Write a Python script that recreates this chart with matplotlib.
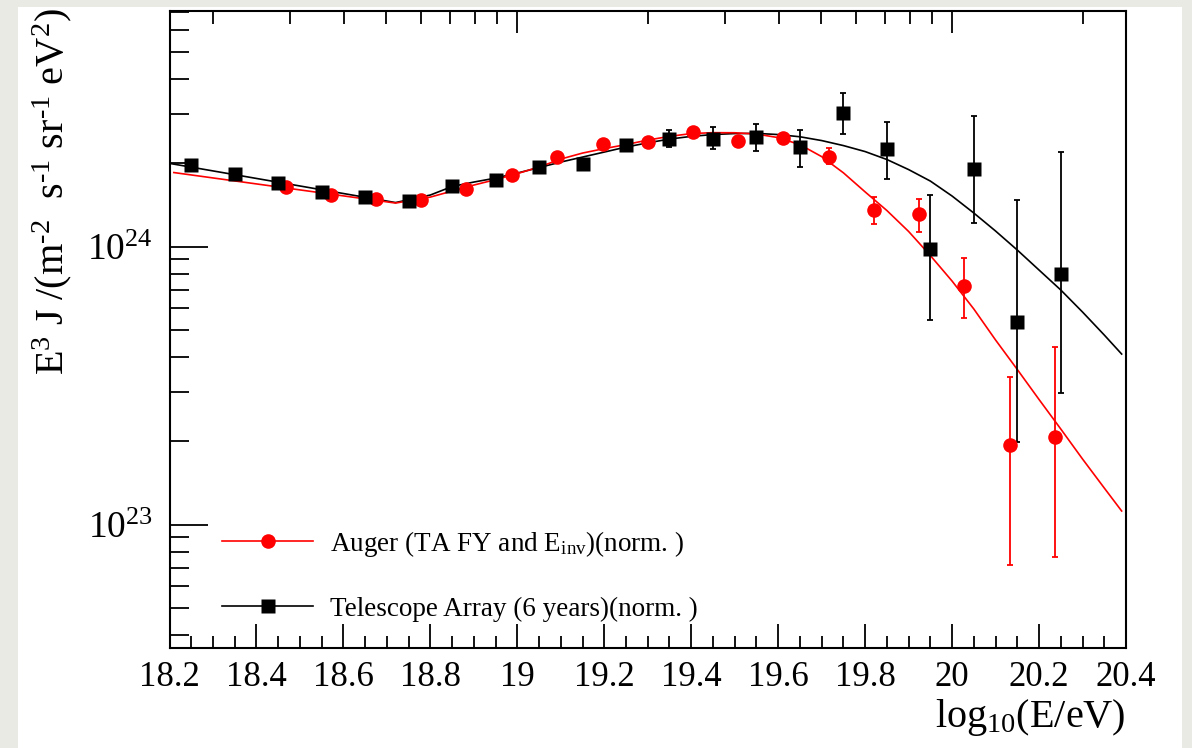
import numpy as np
import matplotlib
matplotlib.use('Agg')
import matplotlib.pyplot as plt
from matplotlib.lines import Line2D
from matplotlib.patches import Rectangle
from matplotlib.ticker import FixedLocator, FixedFormatter, NullFormatter

plt.rcParams['font.family'] = ['Liberation Serif', 'DejaVu Serif']
plt.rcParams['mathtext.fontset'] = 'custom'
plt.rcParams['mathtext.rm'] = 'Liberation Serif'
plt.rcParams['mathtext.it'] = 'Liberation Serif:italic'
plt.rcParams['mathtext.bf'] = 'Liberation Serif:bold'

# ---- Telescope Array (6 years), normalised ----
ta_x = [18.25, 18.35, 18.45, 18.55, 18.65, 18.75, 18.85, 18.95, 19.05, 19.15,
        19.25, 19.35, 19.45, 19.55, 19.65, 19.75, 19.85, 19.95, 20.05, 20.15, 20.25]
ta_y = [1.97e24, 1.83e24, 1.70e24, 1.58e24, 1.51e24, 1.46e24, 1.65e24, 1.74e24,
        1.94e24, 1.98e24, 2.32e24, 2.45e24, 2.45e24, 2.49e24, 2.29e24, 3.04e24,
        2.24e24, 0.98e24, 1.91e24, 5.36e23, 7.98e23]
ta_lo = [1.95e24, 1.81e24, 1.68e24, 1.56e24, 1.49e24, 1.44e24, 1.62e24, 1.71e24,
         1.90e24, 1.93e24, 2.24e24, 2.29e24, 2.24e24, 2.21e24, 1.94e24, 2.54e24,
         1.75e24, 5.45e23, 1.22e24, 1.99e23, 2.97e23]
ta_hi = [1.99e24, 1.85e24, 1.72e24, 1.60e24, 1.53e24, 1.48e24, 1.68e24, 1.77e24,
         1.98e24, 2.03e24, 2.40e24, 2.64e24, 2.69e24, 2.77e24, 2.64e24, 3.57e24,
         2.80e24, 1.53e24, 2.96e24, 1.47e24, 2.19e24]

# ---- Auger (TA FY and E_inv), normalised ----
au_x = [18.467, 18.571, 18.675, 18.779, 18.883, 18.988, 19.092, 19.196, 19.300,
        19.404, 19.508, 19.612, 19.716, 19.820, 19.924, 20.028, 20.133, 20.237]
au_y = [1.64e24, 1.53e24, 1.48e24, 1.47e24, 1.61e24, 1.81e24, 2.10e24, 2.34e24,
        2.39e24, 2.59e24, 2.41e24, 2.47e24, 2.11e24, 1.36e24, 1.31e24, 7.22e23,
        1.93e23, 2.06e23]
au_lo = [1.63e24, 1.52e24, 1.47e24, 1.46e24, 1.60e24, 1.80e24, 2.09e24, 2.32e24,
         2.37e24, 2.56e24, 2.38e24, 2.43e24, 1.98e24, 1.21e24, 1.13e24, 5.55e23,
         7.16e22, 7.67e22]
au_hi = [1.65e24, 1.54e24, 1.49e24, 1.48e24, 1.62e24, 1.82e24, 2.11e24, 2.36e24,
         2.41e24, 2.62e24, 2.44e24, 2.51e24, 2.27e24, 1.51e24, 1.49e24, 9.13e23,
         3.41e23, 4.35e23]

# ---- fitted curves ----
ta_fit_x = [18.20, 18.72, 18.80, 18.85, 18.90, 18.95, 19.00, 19.05, 19.10, 19.15,
            19.20, 19.25, 19.30, 19.35, 19.40, 19.45, 19.50, 19.55, 19.60, 19.65,
            19.70, 19.75, 19.80, 19.85, 19.90, 19.95, 20.00, 20.05, 20.10, 20.15,
            20.20, 20.25, 20.30, 20.35, 20.39]
ta_fit_y = [1.995e24, 1.442e24, 1.535e24, 1.647e24, 1.709e24, 1.766e24, 1.841e24,
            1.927e24, 2.017e24, 2.102e24, 2.191e24, 2.284e24, 2.365e24, 2.440e24,
            2.495e24, 2.533e24, 2.554e24, 2.558e24, 2.533e24, 2.487e24, 2.410e24,
            2.312e24, 2.200e24, 2.060e24, 1.895e24, 1.723e24, 1.522e24, 1.322e24,
            1.139e24, 9.73e23, 8.245e23, 6.988e23, 5.823e23, 4.813e23, 4.111e23]

au_fit_x = [18.21, 18.72, 18.80, 18.85, 18.90, 18.95, 19.00, 19.05, 19.10, 19.15,
            19.20, 19.25, 19.30, 19.35, 19.40, 19.45, 19.50, 19.55, 19.60, 19.65,
            19.70, 19.75, 19.80, 19.85, 19.90, 19.95, 20.00, 20.05, 20.10, 20.15,
            20.20, 20.25, 20.30, 20.35, 20.39]
au_fit_y = [1.849e24, 1.436e24, 1.509e24, 1.586e24, 1.667e24, 1.744e24, 1.833e24,
            1.935e24, 2.068e24, 2.173e24, 2.255e24, 2.331e24, 2.420e24, 2.495e24,
            2.554e24, 2.573e24, 2.571e24, 2.544e24, 2.470e24, 2.330e24, 2.110e24,
            1.845e24, 1.575e24, 1.350e24, 1.135e24, 9.296e23, 7.524e23, 5.970e23,
            4.618e23, 3.617e23, 2.821e23, 2.209e23, 1.723e23, 1.355e23, 1.120e23]

x_ticks = [18.2, 18.4, 18.6, 18.8, 19.0, 19.2, 19.4, 19.6, 19.8, 20.0, 20.2, 20.4]
x_tick_labels = ['18.2', '18.4', '18.6', '18.8', '19', '19.2', '19.4', '19.6',
                 '19.8', '20', '20.2', '20.4']

W, H = 1192, 748
fig = plt.figure(figsize=(W / 100, H / 100), dpi=100)
fig.patch.set_facecolor('#EAEAE5')
fig.patches.append(Rectangle((18 / W, 0), (1182 - 18) / W, (H - 7) / H,
                             transform=fig.transFigure, facecolor='white',
                             edgecolor='none', zorder=-10))

ax = fig.add_axes([169.5 / W, (H - 648) / H, (1126 - 169.5) / W, (648 - 11) / H])
ax.set_yscale('log')
ax.set_xlim(18.2, 20.4)
ax.set_ylim(3.6e22, 7.05e24)

ta_y = np.array(ta_y); au_y = np.array(au_y)
ax.plot(ta_fit_x, ta_fit_y, color='black', lw=1.2, zorder=2)
ax.plot(au_fit_x, au_fit_y, color='red', lw=1.2, zorder=2)

ax.errorbar(ta_x, ta_y, yerr=[ta_y - np.array(ta_lo), np.array(ta_hi) - ta_y],
            fmt='none', ecolor='black', elinewidth=1.3, capsize=2.5,
            capthick=1.3, zorder=3)
ax.errorbar(au_x, au_y, yerr=[au_y - np.array(au_lo), np.array(au_hi) - au_y],
            fmt='none', ecolor='red', elinewidth=1.3, capsize=2.5,
            capthick=1.3, zorder=3)
ax.plot(au_x, au_y, 'o', color='red', ms=10.5, mec='none', zorder=4)
ax.plot(ta_x, ta_y, 's', color='black', ms=10.3, mec='none', zorder=5)

# axes styling (ROOT-like)
for s in ax.spines.values():
    s.set_linewidth(1.5)
ax.xaxis.set_major_locator(FixedLocator(x_ticks))
ax.xaxis.set_major_formatter(FixedFormatter(x_tick_labels))
ax.xaxis.set_minor_locator(FixedLocator(np.arange(18.2, 20.401, 0.05)))
ax.yaxis.set_major_locator(FixedLocator([1e23, 1e24]))
ax.yaxis.set_major_formatter(FixedFormatter([r'$\mathregular{10^{23}}$',
                                             r'$\mathregular{10^{24}}$']))
ax.yaxis.set_minor_locator(FixedLocator([k * 10.0 ** n for n in (22, 23, 24)
                                         for k in range(2, 10)]))
ax.yaxis.set_minor_formatter(NullFormatter())
ax.tick_params(axis='x', which='major', direction='in', length=17, width=1.3,
               labelsize=25, pad=9, top=False)
ax.tick_params(axis='x', which='minor', direction='in', length=9, width=1.3,
               top=False)
ax.tick_params(axis='y', which='major', direction='in', length=27, width=1.3,
               labelsize=27, pad=12, right=False)
ax.tick_params(axis='y', which='minor', direction='in', length=14, width=1.3,
               right=False)

# top axis: energy ticks on a log scale
top = ax.twiny()
top.set_xlim(18.2, 20.4)
top.xaxis.set_major_locator(FixedLocator([19.0, 20.0]))
top.xaxis.set_minor_locator(FixedLocator([np.log10(k * 10.0 ** n)
                                          for n in (18, 19, 20)
                                          for k in range(2, 10)]))
top.tick_params(which='major', direction='in', length=16, width=1.3,
                labeltop=False)
top.tick_params(which='minor', direction='in', length=9, width=1.3)
for s in top.spines.values():
    s.set_visible(False)

# axis titles (ROOT puts sub/superscripts a bit further out)
fig.text(1126 / W, 1 - 727 / H, r'log$_{\mathregular{10}}$(E/eV)', fontsize=29,
         ha='right', va='baseline')
fig.text(52 / W, 1 - 192 / H,
         r'E$^{\mathregular{3}}$ J /(m$^{\text{-2}}$  s$^{\text{-1}}$'
         r' sr$^{\text{-1}}$ eV$^{\mathregular{2}}$)',
         fontsize=29, rotation=90, ha='center', va='center')

# legend
leg = [('red', 'o', 10.5, r'Auger (TA FY and E$_{\mathregular{inv}}$)(norm. )', 541),
       ('black', 's', 10.3, 'Telescope Array (6 years)(norm. )', 606)]
for col, mk, ms, lab, ypx in leg:
    yax = (648 - ypx) / 637
    ax.add_line(Line2D([(222 - 169.5) / 956.5, (313 - 169.5) / 956.5], [yax, yax],
                       color=col, lw=1.2, transform=ax.transAxes))
    ax.add_line(Line2D([(268 - 169.5) / 956.5], [yax], marker=mk, ms=ms,
                       color=col, mec='none', transform=ax.transAxes))
    ax.text((330 - 169.5) / 956.5, (648 - ypx - 10) / 637, lab, fontsize=19.5,
            ha='left', va='baseline', transform=ax.transAxes)

fig.savefig('out.png', dpi=100, facecolor=fig.get_facecolor())
